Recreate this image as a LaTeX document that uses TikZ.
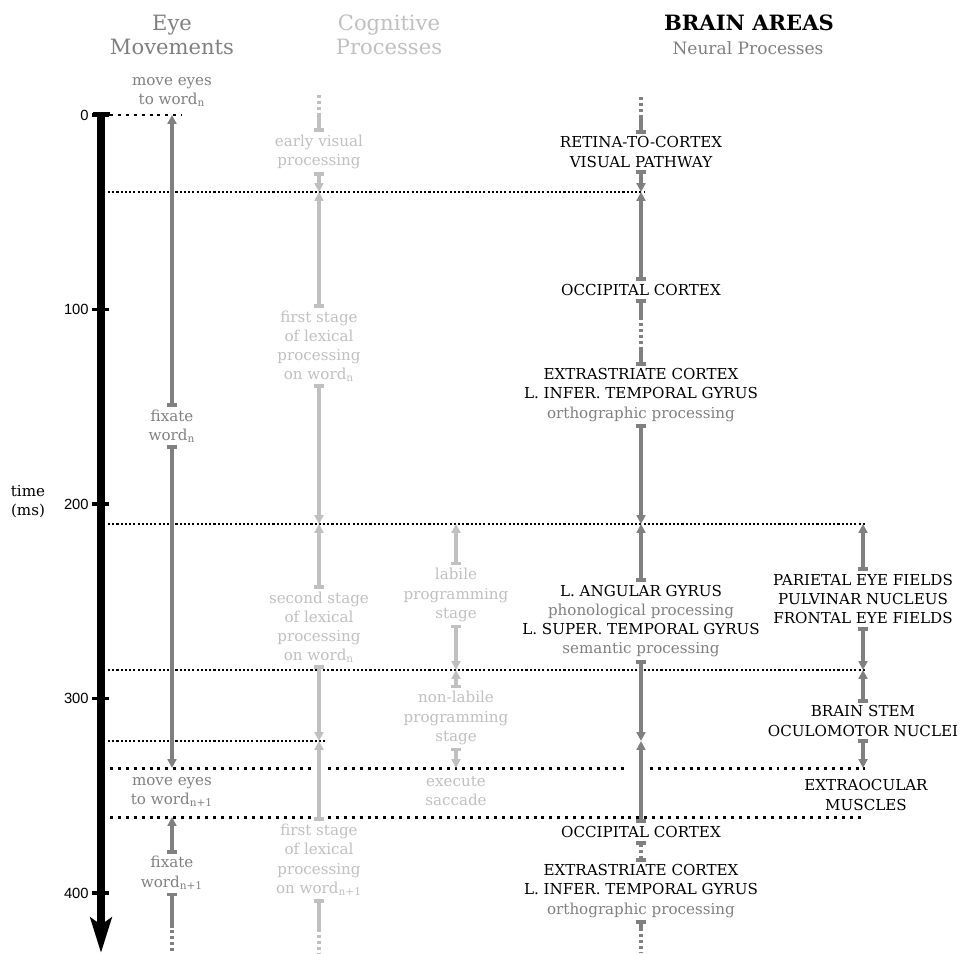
\documentclass[tikz,border=0pt]{standalone}
\usepackage{fontspec}
\setmainfont{DejaVu Serif}
\newfontfamily\ticksans{Liberation Sans}
\usetikzlibrary{arrows.meta,positioning}

\definecolor{eyegray}{HTML}{808080}
\definecolor{coggray}{HTML}{C0C0C0}

\tikzset{
  txt/.style={align=center, inner sep=1.5pt, font=\fontsize{8.6}{10.9}\selectfont},
  eyetxt/.style={txt, text=eyegray},
  cogtxt/.style={txt, text=coggray},
  braintxt/.style={txt, text=black},
  hdr/.style={align=center, inner sep=0pt, font=\fontsize{12}{13.6}\selectfont},
  eyeln/.style={draw=eyegray, line width=2pt},
  cogln/.style={draw=coggray, line width=2.2pt},
  brainln/.style={draw=eyegray, line width=2.2pt},
  bartip/.style={{Bar[width=6pt]}-{Triangle[width=5pt,length=5pt]}},
  dots/.style={dash pattern=on 1.7pt off 1.7pt},
  thinline/.style={line width=0.6pt, dash pattern=on 1.2pt off 1.2pt},
  thickline/.style={line width=1.7pt, dash pattern=on 1.7pt off 2.8pt},
}

\begin{document}
\begin{tikzpicture}[x=0.02cm, y=-0.02cm]
\useasboundingbox (0,0) rectangle (963,953);

% headers
\node[hdr, text=eyegray] (heye) at (172,35) {Eye\\Movements};
\node[hdr, text=coggray] (hcog) at (389,35) {Cognitive\\Processes};
\node[hdr, font=\fontsize{12}{13.6}\selectfont\bfseries] (hbrain) at (749,23) {BRAIN AREAS};
\node[hdr, text=eyegray, font=\fontsize{9.7}{11}\selectfont] (hneural) at (748,48) {Neural Processes};

% time axis
\draw[line width=4.5pt, -{Stealth[length=20pt, width=12pt, inset=4pt]}] (101,113) -- (101,953);
\draw[line width=2.2pt] (93,114) -- (110,114);
\foreach \t in {0,100,200,300,400} {
  \draw[line width=2pt] (92,{115+1.945*\t}) -- (109,{115+1.945*\t});
  \node[anchor=east, inner sep=0pt, font=\ticksans\fontsize{8.4}{9}\selectfont] (tick\t) at (89,{115+1.945*\t}) {\t};
}
\node[txt] (timelbl) at (28,502) {time\\(ms)};

% time lines
\coordinate (t0) at (0,115);
\coordinate (t40) at (0,192);
\coordinate (t210) at (0,524);
\coordinate (t285) at (0,670);
\coordinate (t322) at (0,741);
\coordinate (t336) at (0,768);
\coordinate (t361) at (0,817);

\draw[thickline] (110,115) -- (182,115);
\draw[thinline] (108,192) -- (645,192);
\draw[thinline] (108,524) -- (866,524);
\draw[thinline] (108,670) -- (866,670);
\draw[thinline] (108,741) -- (325,741);
\draw[thickline] (110,768) -- (312,768);
\draw[thickline] (328,768) -- (627,768);
\draw[thickline] (650,768) -- (865,768);
\draw[thickline] (110,817) -- (312,817);
\draw[thickline] (328,817) -- (865,817);

% eye movements
\node[eyetxt] (mv1) at (172,92) {move eyes\\to word\textsubscript{n}};
\node[eyetxt] (fx1) at (172,426) {fixate\\word\textsubscript{n}};
\node[eyetxt] (mv2) at (172,792) {move eyes\\to word\textsubscript{n+1}};
\node[eyetxt] (fx2) at (172,873) {fixate\\word\textsubscript{n+1}};

\draw[eyeln, bartip] (fx1.north) -- (fx1.north |- t0);
\draw[eyeln, bartip] (fx1.south) -- (fx1.south |- t336);
\draw[eyeln, bartip] (fx2.north) -- (fx2.north |- t361);
\draw[eyeln, {Bar[width=6pt]}-] (fx2.south) -- ++(0,32) coordinate (fx2end);
\draw[eyeln, dots] (fx2end) -- (fx2end |- 0,953);

% cognitive processes
\node[cogtxt] (ev) at (319,152) {early visual\\processing};
\node[cogtxt] (fs1) at (319,346) {first stage\\of lexical\\processing\\on word\textsubscript{n}};
\node[cogtxt] (ss) at (319,627) {second stage\\of lexical\\processing\\on word\textsubscript{n}};
\node[cogtxt] (fs2) at (319,860) {first stage\\of lexical\\processing\\on word\textsubscript{n+1}};
\node[cogtxt] (lab) at (456,595) {labile\\programming\\stage};
\node[cogtxt] (nonlab) at (456,718) {non-labile\\programming\\stage};
\node[cogtxt] (exe) at (456,791) {execute\\saccade};

\draw[cogln, {Bar[width=6pt]}-] (ev.north) -- ++(0,-16) coordinate (evtop);
\draw[cogln, dots] (evtop) -- ++(0,-21);
\draw[cogln, bartip] (ev.south) -- (ev.south |- t40);
\draw[cogln, bartip] (fs1.north) -- (fs1.north |- t40);
\draw[cogln, bartip] (fs1.south) -- (fs1.south |- t210);
\draw[cogln, bartip] (ss.north) -- (ss.north |- t210);
\draw[cogln, bartip] (ss.south) -- (ss.south |- t322);
\draw[cogln, bartip] (fs2.north) -- (fs2.north |- t322);
\draw[cogln, {Bar[width=6pt]}-] (fs2.south) -- ++(0,30) coordinate (fs2end);
\draw[cogln, dots] (fs2end) -- (fs2end |- 0,953);
\draw[cogln, bartip] (lab.north) -- (lab.north |- t210);
\draw[cogln, bartip] (lab.south) -- (lab.south |- t285);
\draw[cogln, bartip] (nonlab.north) -- (nonlab.north |- t285);
\draw[cogln, bartip] (nonlab.south) -- (nonlab.south |- t336);

% brain areas
\node[braintxt] (rtc) at (641,152) {RETINA-TO-CORTEX\\VISUAL PATHWAY};
\node[braintxt] (occ1) at (641,290) {OCCIPITAL CORTEX};
\node[braintxt] (ext1) at (641,395) {EXTRASTRIATE CORTEX\\L. INFER. TEMPORAL GYRUS\\\textcolor{eyegray}{orthographic processing}};
\node[braintxt] (ang) at (641,621) {L. ANGULAR GYRUS\\\textcolor{eyegray}{phonological processing}\\L. SUPER. TEMPORAL GYRUS\\\textcolor{eyegray}{semantic processing}};
\node[braintxt] (occ2) at (641,832) {OCCIPITAL CORTEX};
\node[braintxt] (ext2) at (641,891) {EXTRASTRIATE CORTEX\\L. INFER. TEMPORAL GYRUS\\\textcolor{eyegray}{orthographic processing}};
\node[braintxt] (par) at (863,599) {PARIETAL EYE FIELDS\\PULVINAR NUCLEUS\\FRONTAL EYE FIELDS};
\node[braintxt] (bst) at (863,721) {BRAIN STEM\\OCULOMOTOR NUCLEI};
\node[braintxt] (eom) at (866,795) {EXTRAOCULAR\\MUSCLES};

\draw[brainln, {Bar[width=6pt]}-] (rtc.north) -- ++(0,-16) coordinate (rtctop);
\draw[brainln, dots] (rtctop) -- ++(0,-21);
\draw[brainln, bartip] (rtc.south) -- (rtc.south |- t40);
\draw[brainln, bartip] (occ1.north) -- (occ1.north |- t40);
\draw[brainln, {Bar[width=6pt]}-] (occ1.south) -- ++(0,18) coordinate (occ1a);
\draw[brainln, {Bar[width=6pt]}-] (ext1.north) -- ++(0,-16) coordinate (ext1a);
\draw[brainln, dots] (occ1a) -- (ext1a);
\draw[brainln, bartip] (ext1.south) -- (ext1.south |- t210);
\draw[brainln, bartip] (ang.north) -- (ang.north |- t210);
\draw[brainln, bartip] (ang.south) -- (ang.south |- t322);
\draw[brainln, bartip] (occ2.north) -- (occ2.north |- t322);
\draw[brainln, dots, {Bar[width=6pt]}-{Bar[width=6pt]}] (occ2.south) -- (ext2.north);
\draw[brainln, {Bar[width=6pt]}-] (ext2.south) -- ++(0,8) coordinate (ext2end);
\draw[brainln, dots] (ext2end) -- (ext2end |- 0,953);
\draw[brainln, bartip] (par.north) -- (par.north |- t210);
\draw[brainln, bartip] (par.south) -- (par.south |- t285);
\draw[brainln, bartip] (bst.north) -- (bst.north |- t285);
\draw[brainln, bartip] (bst.south) -- (bst.south |- t336);
\end{tikzpicture}
\end{document}
